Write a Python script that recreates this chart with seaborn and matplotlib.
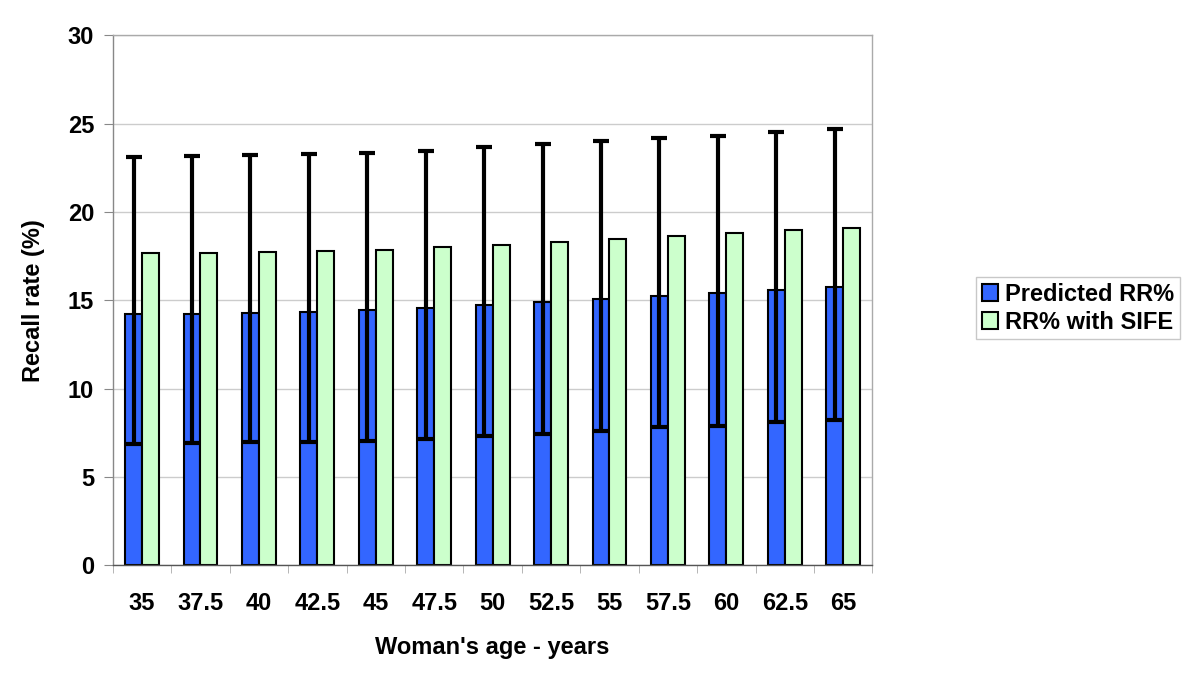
import seaborn as sns
import pandas as pd
import matplotlib.pyplot as plt
import matplotlib
import numpy as np
matplotlib.use('Agg')

ages = ["35", "37.5", "40", "42.5", "45", "47.5", "50", "52.5", "55", "57.5", "60", "62.5", "65"]
predicted = [14.2, 14.2, 14.3, 14.35, 14.45, 14.55, 14.75, 14.9, 15.05, 15.25, 15.4, 15.6, 15.75]
with_sife = [17.65, 17.7, 17.75, 17.8, 17.85, 18.0, 18.15, 18.3, 18.45, 18.65, 18.8, 18.95, 19.1]
err_upper = [23.1, 23.15, 23.2, 23.25, 23.35, 23.45, 23.65, 23.85, 24.0, 24.2, 24.3, 24.5, 24.7]
err_lower = [6.85, 6.9, 6.95, 7.0, 7.05, 7.15, 7.3, 7.45, 7.6, 7.8, 7.9, 8.1, 8.25]

df = pd.DataFrame({
    "age": ages * 2,
    "rate": predicted + with_sife,
    "series": ["Predicted RR%"] * len(ages) + ["RR% with SIFE"] * len(ages),
})

sns.set_style("white")
plt.rcParams['font.family'] = ['Liberation Sans', 'DejaVu Sans']
plt.rcParams['font.weight'] = 'bold'
plt.rcParams['text.color'] = 'black'
plt.rcParams['axes.labelcolor'] = 'black'
plt.rcParams['xtick.color'] = 'black'
plt.rcParams['ytick.color'] = 'black'

pal = {"Predicted RR%": "#3366FF", "RR% with SIFE": "#CCFFCC"}
fig = plt.figure(figsize=(12, 6.77), dpi=100)
ax = fig.add_axes([0.094, 0.165, 0.633, 0.783])
sns.barplot(data=df, x="age", y="rate", hue="series", palette=pal, order=ages,
            width=0.58, edgecolor="black", linewidth=1.5, saturation=1, ax=ax, zorder=2)

# error bars on the blue bars
xs = [p.get_x() + p.get_width() / 2 for p in ax.containers[0]]
pred = np.array(predicted)
yerr = [pred - np.array(err_lower), np.array(err_upper) - pred]
ax.errorbar(xs, pred, yerr=yerr, fmt="none", ecolor="black", elinewidth=3,
            capsize=6, capthick=3, zorder=3)

ax.set_ylim(0, 30)
ax.set_xlim(-0.5, len(ages) - 0.5)
ax.set_yticks(range(0, 31, 5))
ax.yaxis.grid(True, color="#CCCCCC", linewidth=1)
ax.set_axisbelow(True)
for s in ax.spines.values():
    s.set_color("#AAAAAA")
    s.set_linewidth(1)
ax.spines["left"].set_color("#888888")
ax.spines["bottom"].set_color("#555555")

ax.tick_params(axis="y", which="major", labelsize=17, length=6.5, color="#888888", left=True, pad=7)
ax.tick_params(axis="x", which="major", labelsize=17, length=0, pad=19)
ax.set_xticks(np.arange(-0.5, len(ages), 1.0), minor=True)
ax.tick_params(axis="x", which="minor", length=6, color="#AAAAAA", bottom=True)
for lab in ax.get_xticklabels() + ax.get_yticklabels():
    lab.set_fontweight("bold")

ax.set_xlabel("Woman's age - years", fontsize=17, fontweight="bold", labelpad=15)
ax.set_ylabel("Recall rate (%)", fontsize=17, fontweight="bold", labelpad=16)

handles, labels = ax.get_legend_handles_labels()
leg = ax.legend(handles=handles, labels=labels, loc="center left", bbox_to_anchor=(1.136, 0.485),
                frameon=True, fancybox=False, edgecolor="#BBBBBB",
                handlelength=0.7, handleheight=0.7, handletextpad=0.3, borderpad=0.25,
                labelspacing=0.2, borderaxespad=0, prop={"weight": "bold", "size": 17})
leg.get_frame().set_linewidth(1)

fig.savefig("out.png", dpi=100)
